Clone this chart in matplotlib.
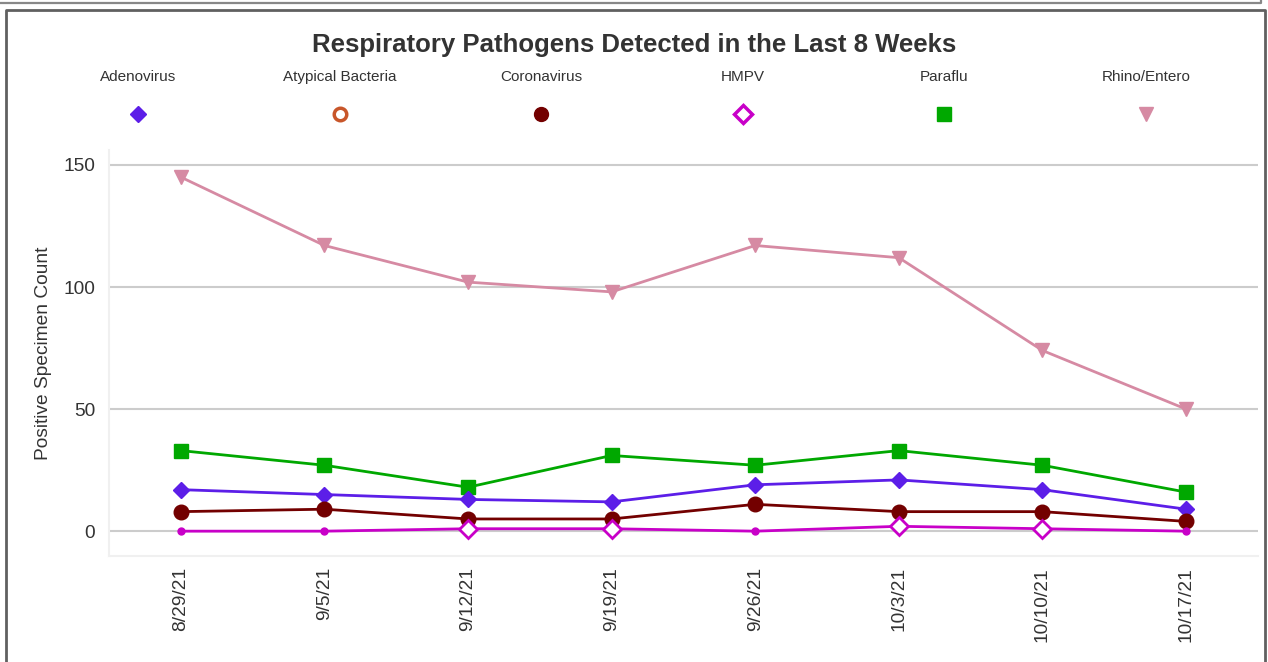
# Respiratory pathogens line chart
import numpy as np
import matplotlib
matplotlib.use('Agg')
import matplotlib.pyplot as plt
from matplotlib.lines import Line2D

plt.rcParams['font.family'] = ['Liberation Sans', 'DejaVu Sans']

# data
weeks = ['8/29/21', '9/5/21', '9/12/21', '9/19/21', '9/26/21', '10/3/21', '10/10/21', '10/17/21']
adenovirus = [17, 15, 13, 12, 19, 21, 17, 9]
atypical = [np.nan] * 8  # no points shown
coronavirus = [8, 9, 5, 5, 11, 8, 8, 4]
hmpv = [0, 0, 1, 1, 0, 2, 1, 0]
paraflu = [33, 27, 18, 31, 27, 33, 27, 16]
rhino = [145, 117, 102, 98, 117, 112, 74, 50]

names = ['Adenovirus', 'Atypical Bacteria', 'Coronavirus', 'HMPV', 'Paraflu', 'Rhino/Entero']
colors = ['#5c1ee8', '#c8562a', '#730000', '#c800c8', '#00a800', '#d68aa3']
markers = ['D', 'o', 'o', 'D', 's', 'v']
filled = [True, False, True, False, True, True]
leg_sizes = [8, 9, 10, 9, 10, 10]

fig = plt.figure(figsize=(12.68, 6.62), dpi=100)
ax = fig.add_axes([0.086, 0.160, 0.906, 0.613])

x = np.arange(len(weeks))
txt = '#333333'

# draw order: back to front
ax.plot(x, atypical, color=colors[1], lw=2, zorder=2)
ax.plot(x, rhino, color=colors[5], lw=2, marker='v', ms=10, zorder=3)
ax.plot(x, paraflu, color=colors[4], lw=2, marker='s', ms=10.5, zorder=3)
ax.plot(x, adenovirus, color=colors[0], lw=2, marker='D', ms=8.5, zorder=4)
ax.plot(x, coronavirus, color=colors[2], lw=2, marker='o', ms=10.5, zorder=4)
ax.plot(x, hmpv, color=colors[3], lw=2, zorder=5)
hm = np.array(hmpv)
nz = hm > 0
ax.plot(x[nz], hm[nz], ls='none', marker='D', ms=9, mfc='white', mec=colors[3], mew=2, zorder=6)
ax.plot(x[~nz], hm[~nz], ls='none', marker='o', ms=5, color=colors[3], zorder=6)

ax.set_xlim(-0.5, len(weeks) - 0.5)
ax.set_ylim(-10.2, 156)
ax.set_yticks([0, 50, 100, 150])
ax.set_xticks(x)
ax.set_xticklabels(weeks, rotation=90)
ax.tick_params(axis='both', length=0, labelsize=13.8, labelcolor=txt)
ax.tick_params(axis='x', pad=8)
ax.tick_params(axis='y', pad=10)
ax.grid(axis='y', color='#cccccc', lw=1.5)
ax.set_axisbelow(True)
for s in ['top', 'right']:
    ax.spines[s].set_visible(False)
for s in ['left', 'bottom']:
    ax.spines[s].set_color('#f0f0f0')
    ax.spines[s].set_linewidth(1.5)
ax.set_ylabel('Positive Specimen Count', fontsize=13.8, color=txt, labelpad=8)

fig.text(0.5, 1 - 45 / 662, 'Respiratory Pathogens Detected in the Last 8 Weeks',
         ha='center', va='center', fontsize=18.5, fontweight='bold', color=txt)

# legend row
for i, name in enumerate(names):
    lx = (138 + i * 201.6) / 1268
    fig.text(lx, 1 - 77 / 662, name, ha='center', va='center', fontsize=11, color=txt)
    if filled[i]:
        m = Line2D([lx], [1 - 114 / 662], marker=markers[i], ms=leg_sizes[i], color=colors[i],
                   ls='none', transform=fig.transFigure)
    else:
        m = Line2D([lx], [1 - 114 / 662], marker=markers[i], ms=leg_sizes[i], mfc='white',
                   mec=colors[i], mew=2.5, ls='none', transform=fig.transFigure)
    fig.add_artist(m)

# panel frames
W, H = 1268, 662
fig.add_artist(Line2D([0, 1261 / W, 1261 / W], [1 - 2.5 / H, 1 - 2.5 / H, 1], color='#888888',
                      lw=1.6, transform=fig.transFigure))
fig.add_artist(Line2D([6 / W, 6 / W, 1265 / W, 1265 / W], [0, 1 - 10 / H, 1 - 10 / H, 0],
                      color='#606060', lw=2, transform=fig.transFigure))

fig.savefig('out.png', dpi=100)
